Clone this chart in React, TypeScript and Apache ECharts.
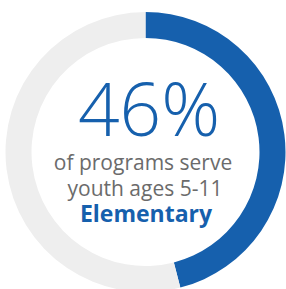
import React, { useEffect, useRef } from "react";
import * as echarts from "echarts";

const categories = ["Elementary (ages 5-11)", "Other"];
const values = [46, 54];
const bigLabel = "46%";
const line1 = "of programs serve";
const line2 = "youth ages 5-11";
const line3 = "Elementary";

export default function App() {
  const ref = useRef<HTMLDivElement>(null);
  useEffect(() => {
    const chart = echarts.init(ref.current!, undefined, { renderer: "svg" });
    chart.setOption({
      animation: false,
      series: [
        {
          type: "pie",
          silent: true,
          center: [145.5, 152],
          radius: [114, 140],
          startAngle: 90,
          clockwise: true,
          label: { show: false },
          labelLine: { show: false },
          data: categories.map((c, i) => ({
            name: c,
            value: values[i],
            itemStyle: { color: i === 0 ? "#1660AD" : "#EEEEEE" },
          })),
        },
      ],
      graphic: [
        {
          type: "text",
          x: 149,
          y: 107,
          style: {
            text: bigLabel,
            fontFamily: "Open Sans",
            fontWeight: 300,
            fontSize: 73,
            lineHeight: 60,
            fill: "#1660AD",
            align: "center",
            verticalAlign: "middle",
          },
        },
        {
          type: "text",
          x: 143,
          y: 162,
          style: {
            text: line1,
            fontFamily: "Open Sans",
            fontSize: 21,
            lineHeight: 22,
            fill: "#6B6B6B",
            align: "center",
            verticalAlign: "middle",
          },
        },
        {
          type: "text",
          x: 145,
          y: 188,
          style: {
            text: line2,
            fontFamily: "Open Sans",
            fontSize: 21,
            lineHeight: 22,
            fill: "#6B6B6B",
            align: "center",
            verticalAlign: "middle",
          },
        },
        {
          type: "text",
          x: 146,
          y: 213,
          style: {
            text: line3,
            fontFamily: "Open Sans",
            fontWeight: "bold",
            fontSize: 23,
            lineHeight: 23,
            fill: "#1660AD",
            align: "center",
            verticalAlign: "middle",
          },
        },
      ],
    });
    return () => chart.dispose();
  }, []);
  return (
    <div
      ref={ref}
      style={{ position: "fixed", left: 0, top: 0, width: 286, height: 289, background: "#fff" }}
    />
  );
}
